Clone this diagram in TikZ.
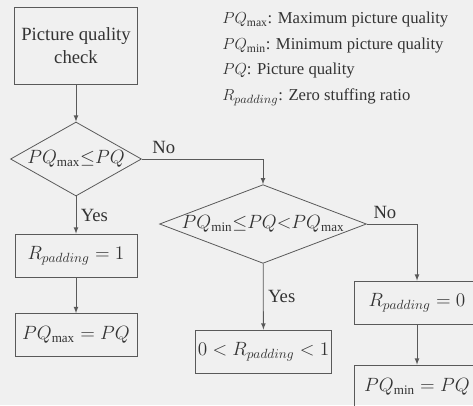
\documentclass[tikz,border=0pt]{standalone}
\usepackage{fontspec}
\setmainfont{Liberation Serif}
\usetikzlibrary{shapes, arrows, positioning, shapes.geometric}

\begin{document}
\begin{tikzpicture}[x=0.75pt, y=-0.75pt, every node/.style={font=\fontsize{14}{17}\selectfont, text=black!80}]
            \tikzstyle{proc} = [draw=black!65, line width=0.6pt, rectangle, minimum width=91.5pt, minimum height=32.25pt, align=center, inner sep=2pt]
            \tikzstyle{decision} = [draw=black!65, line width=0.6pt, diamond, inner sep=0pt, align=center]
            \tikzstyle{flow} = [draw=black!65, line width=0.6pt, -latex]
            \tikzstyle{legend} = [anchor=west, inner sep=0pt, font=\fontsize{12.5}{15}\selectfont]

            \useasboundingbox (0,0) rectangle (473,405);
            \clip (0,0) rectangle (473,405);
            \fill[black!6] (0,0) rectangle (473,405);

            \node[proc, minimum height=57.75pt, minimum width=92.25pt] (check) at (76, 45.5) {Picture quality\\check};
            \node[decision, aspect=1.77, minimum width=98.25pt, minimum height=55.5pt] (maxtest) at (76, 159) {$PQ_{\mathrm{max}}{\leq}PQ$};
            \node[proc] (rone) at (76, 255.5) {$R_{padding} = 1$};
            \node[proc] (setmax) at (76, 335) {$PQ_{\mathrm{max}} = PQ$};
            \node[decision, aspect=2.63, minimum width=150pt, minimum height=57pt] (mintest) at (263, 224) {$PQ_{\mathrm{min}}{\leq}PQ{<}PQ_{\mathrm{max}}$};
            \node[proc, minimum width=90.75pt] (rmid) at (263.5, 351.5) {$0 < R_{padding} < 1$};
            \node[proc, minimum width=94.5pt] (rzero) at (417, 302.5) {$R_{padding} = 0$};
            \node[proc, minimum width=94.5pt] (setmin) at (417, 386.5) {$PQ_{\mathrm{min}} = PQ$};

            % legend
            \node[legend] (legmax) at (222, 20) {$PQ_{\mathrm{max}}$: Maximum picture quality};
            \node[legend] (legmin) at (222, 46) {$PQ_{\mathrm{min}}$: Minimum picture quality};
            \node[legend] (legpq) at (222, 71) {$PQ$: Picture quality};
            \node[legend] (legpad) at (222, 97) {$R_{padding}$: Zero stuffing ratio};

            \draw[flow] (check) -- (maxtest);
            \draw[flow] (maxtest) -- node[right, pos=0.5] (yesone) {Yes} (rone);
            \draw[flow] (rone) -- (setmax);
            \draw[flow] (maxtest.east) -| node[above, pos=0.09] (noone) {No} (mintest.north);
            \draw[flow] (mintest) -- node[right, pos=0.5] (yestwo) {Yes} (rmid);
            \draw[flow] (mintest.east) -| node[above, pos=0.18] (notwo) {No} (rzero.north);
            \draw[flow] (rzero) -- (setmin);
        \end{tikzpicture}
\end{document}
